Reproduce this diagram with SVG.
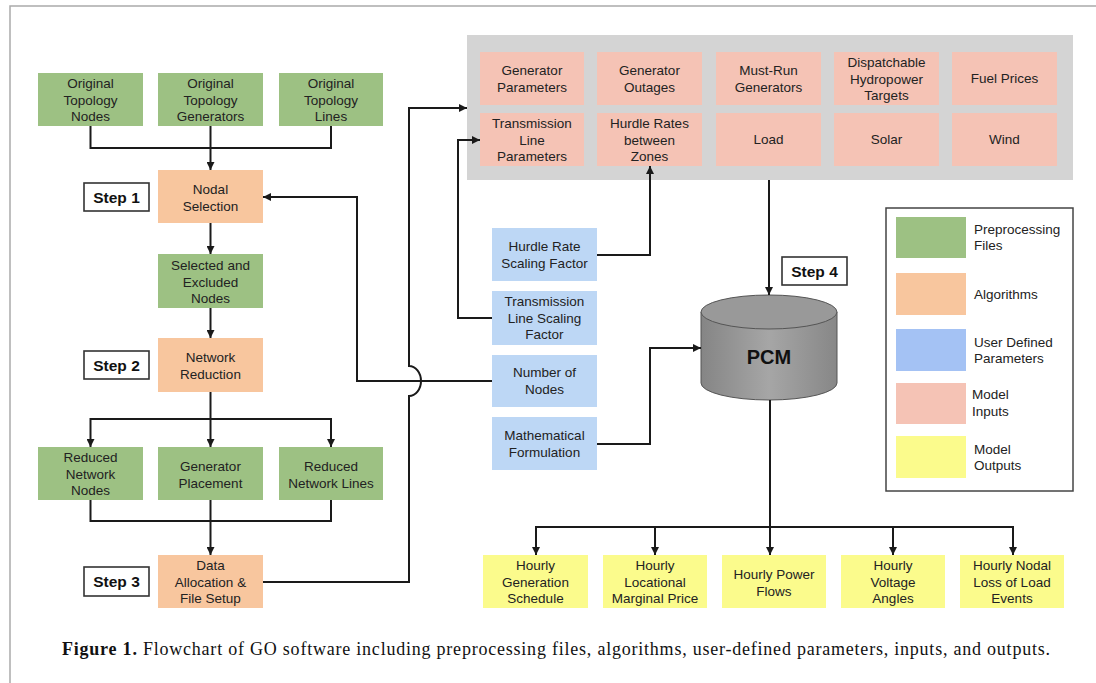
<svg xmlns="http://www.w3.org/2000/svg" width="1096" height="683" viewBox="0 0 1096 683">
<defs>
<marker id="ah" markerUnits="userSpaceOnUse" markerWidth="9" markerHeight="8" refX="8" refY="4" orient="auto">
<path d="M0,0 L8,4 L0,8 z" fill="#1a1a1a"/>
</marker>
<linearGradient id="cyl" x1="0" y1="0" x2="1" y2="0">
<stop offset="0" stop-color="#858585"/>
<stop offset="0.5" stop-color="#a6a6a6"/>
<stop offset="1" stop-color="#878787"/>
</linearGradient>
<style>
.t{font-family:"Liberation Sans",Arial,sans-serif;font-size:13.5px;fill:#222;text-anchor:middle}
.lg{font-family:"Liberation Sans",Arial,sans-serif;font-size:13.5px;fill:#222}
.step{font-family:"Liberation Sans",Arial,sans-serif;font-size:15.5px;font-weight:bold;fill:#111;text-anchor:middle}
.g{fill:#9dc183}
.o{fill:#f8c69e}
.b{fill:#bdd7f5}
.p{fill:#f5c3b5}
.y{fill:#fbfb8c}
.sb{fill:#fff;stroke:#333;stroke-width:1.6}
.c{fill:none;stroke:#1a1a1a;stroke-width:2}
.a{marker-end:url(#ah)}
</style>
</defs>
<rect width="1096" height="683" fill="#fff"/>
<path d="M10,683 V6 H1096" fill="none" stroke="#aaa" stroke-width="1.5"/>

<g id="orig-nodes"><rect class="g" x="38" y="73" width="105" height="53"/><text class="t" x="90.5" y="88"><tspan x="90.5">Original</tspan><tspan x="90.5" dy="16.5">Topology</tspan><tspan x="90.5" dy="16.5">Nodes</tspan></text></g>
<g id="orig-gens"><rect class="g" x="158" y="73" width="105" height="53"/><text class="t" x="210.5" y="88"><tspan x="210.5">Original</tspan><tspan x="210.5" dy="16.5">Topology</tspan><tspan x="210.5" dy="16.5">Generators</tspan></text></g>
<g id="orig-lines"><rect class="g" x="279" y="73" width="104" height="53"/><text class="t" x="331" y="88"><tspan x="331">Original</tspan><tspan x="331" dy="16.5">Topology</tspan><tspan x="331" dy="16.5">Lines</tspan></text></g>

<g id="step1"><rect class="sb" x="84" y="183" width="65" height="28"/><text class="step" x="116.5" y="203">Step 1</text></g>
<g id="nodal-selection"><rect class="o" x="158" y="170" width="105" height="53"/><text class="t" x="210.5" y="194"><tspan x="210.5">Nodal</tspan><tspan x="210.5" dy="16.5">Selection</tspan></text></g>
<g id="selected-excluded"><rect class="g" x="158" y="254" width="105" height="54"/><text class="t" x="210.5" y="270"><tspan x="210.5">Selected and</tspan><tspan x="210.5" dy="16.5">Excluded</tspan><tspan x="210.5" dy="16.5">Nodes</tspan></text></g>

<g id="step2"><rect class="sb" x="84" y="351" width="65" height="28"/><text class="step" x="116.5" y="371">Step 2</text></g>
<g id="network-reduction"><rect class="o" x="158" y="338" width="105" height="54"/><text class="t" x="210.5" y="362"><tspan x="210.5">Network</tspan><tspan x="210.5" dy="16.5">Reduction</tspan></text></g>

<g id="reduced-nodes"><rect class="g" x="38" y="447" width="105" height="53"/><text class="t" x="90.5" y="462"><tspan x="90.5">Reduced</tspan><tspan x="90.5" dy="16.5">Network</tspan><tspan x="90.5" dy="16.5">Nodes</tspan></text></g>
<g id="generator-placement"><rect class="g" x="158" y="447" width="105" height="53"/><text class="t" x="210.5" y="471"><tspan x="210.5">Generator</tspan><tspan x="210.5" dy="16.5">Placement</tspan></text></g>
<g id="reduced-lines"><rect class="g" x="279" y="447" width="104" height="53"/><text class="t" x="331" y="471"><tspan x="331">Reduced</tspan><tspan x="331" dy="16.5">Network Lines</tspan></text></g>

<g id="step3"><rect class="sb" x="84" y="567" width="65" height="29"/><text class="step" x="116.5" y="587">Step 3</text></g>
<g id="data-allocation"><rect class="o" x="158" y="555" width="105" height="53"/><text class="t" x="210.5" y="570"><tspan x="210.5">Data</tspan><tspan x="210.5" dy="16.5">Allocation &amp;</tspan><tspan x="210.5" dy="16.5">File Setup</tspan></text></g>

<g id="model-inputs">
<rect x="467" y="35" width="606" height="145" fill="#d4d4d4"/>
<rect class="p" x="480" y="52" width="104" height="53"/><text class="t" x="532" y="75"><tspan x="532">Generator</tspan><tspan x="532" dy="16.5">Parameters</tspan></text>
<rect class="p" x="597" y="52" width="105" height="53"/><text class="t" x="649.5" y="75"><tspan x="649.5">Generator</tspan><tspan x="649.5" dy="16.5">Outages</tspan></text>
<rect class="p" x="716" y="52" width="105" height="53"/><text class="t" x="768.5" y="75"><tspan x="768.5">Must-Run</tspan><tspan x="768.5" dy="16.5">Generators</tspan></text>
<rect class="p" x="834" y="52" width="105" height="53"/><text class="t" x="886.5" y="67"><tspan x="886.5">Dispatchable</tspan><tspan x="886.5" dy="16.5">Hydropower</tspan><tspan x="886.5" dy="16.5">Targets</tspan></text>
<rect class="p" x="952" y="52" width="105" height="53"/><text class="t" x="1004.5" y="83">Fuel Prices</text>
<rect class="p" x="480" y="113" width="104" height="53"/><text class="t" x="532" y="128"><tspan x="532">Transmission</tspan><tspan x="532" dy="16.5">Line</tspan><tspan x="532" dy="16.5">Parameters</tspan></text>
<rect class="p" x="597" y="113" width="105" height="53"/><text class="t" x="649.5" y="128"><tspan x="649.5">Hurdle Rates</tspan><tspan x="649.5" dy="16.5">between</tspan><tspan x="649.5" dy="16.5">Zones</tspan></text>
<rect class="p" x="716" y="113" width="105" height="53"/><text class="t" x="768.5" y="144">Load</text>
<rect class="p" x="834" y="113" width="105" height="53"/><text class="t" x="886.5" y="144">Solar</text>
<rect class="p" x="952" y="113" width="105" height="53"/><text class="t" x="1004.5" y="144">Wind</text>
</g>

<g id="hurdle-scaling"><rect class="b" x="492" y="228" width="105" height="53"/><text class="t" x="544.5" y="251"><tspan x="544.5">Hurdle Rate</tspan><tspan x="544.5" dy="16.5">Scaling Factor</tspan></text></g>
<g id="tx-scaling"><rect class="b" x="492" y="291" width="105" height="54"/><text class="t" x="544.5" y="306"><tspan x="544.5">Transmission</tspan><tspan x="544.5" dy="16.5">Line Scaling</tspan><tspan x="544.5" dy="16.5">Factor</tspan></text></g>
<g id="num-nodes"><rect class="b" x="492" y="355" width="105" height="52"/><text class="t" x="544.5" y="377"><tspan x="544.5">Number of</tspan><tspan x="544.5" dy="16.5">Nodes</tspan></text></g>
<g id="math-formulation"><rect class="b" x="492" y="417" width="105" height="53"/><text class="t" x="544.5" y="440"><tspan x="544.5">Mathematical</tspan><tspan x="544.5" dy="16.5">Formulation</tspan></text></g>

<g id="step4"><rect class="sb" x="782" y="257" width="65" height="28"/><text class="step" x="814.5" y="277">Step 4</text></g>
<g id="pcm">
<path d="M701,312 V383 A68,17 0 0 0 837,383 V312 Z" fill="url(#cyl)" stroke="#555" stroke-width="1"/>
<ellipse cx="769" cy="312" rx="68" ry="17" fill="#999" stroke="#555" stroke-width="1"/>
<text x="769" y="364" font-family="'Liberation Sans',Arial,sans-serif" font-size="20" font-weight="bold" fill="#111" text-anchor="middle">PCM</text>
</g>

<g id="out-gen"><rect class="y" x="483" y="555" width="105" height="53"/><text class="t" x="535.5" y="570"><tspan x="535.5">Hourly</tspan><tspan x="535.5" dy="16.5">Generation</tspan><tspan x="535.5" dy="16.5">Schedule</tspan></text></g>
<g id="out-lmp"><rect class="y" x="603" y="555" width="104" height="53"/><text class="t" x="655" y="570"><tspan x="655">Hourly</tspan><tspan x="655" dy="16.5">Locational</tspan><tspan x="655" dy="16.5">Marginal Price</tspan></text></g>
<g id="out-flows"><rect class="y" x="722" y="555" width="104" height="53"/><text class="t" x="774" y="579"><tspan x="774">Hourly Power</tspan><tspan x="774" dy="16.5">Flows</tspan></text></g>
<g id="out-angles"><rect class="y" x="841" y="555" width="104" height="53"/><text class="t" x="893" y="570"><tspan x="893">Hourly</tspan><tspan x="893" dy="16.5">Voltage</tspan><tspan x="893" dy="16.5">Angles</tspan></text></g>
<g id="out-lol"><rect class="y" x="960" y="555" width="104" height="53"/><text class="t" x="1012" y="570"><tspan x="1012">Hourly Nodal</tspan><tspan x="1012" dy="16.5">Loss of Load</tspan><tspan x="1012" dy="16.5">Events</tspan></text></g>

<g id="legend">
<rect x="886" y="208" width="187" height="283" fill="#fff" stroke="#444" stroke-width="1.5"/>
<rect class="g" x="896" y="217" width="70" height="41"/>
<rect class="o" x="896" y="273" width="70" height="42"/>
<rect x="896" y="329" width="70" height="42" fill="#a4c2f4"/>
<rect class="p" x="896" y="383" width="70" height="41"/>
<rect class="y" x="896" y="436" width="70" height="42"/>
<text class="lg" x="974" y="234">Preprocessing</text>
<text class="lg" x="974" y="250">Files</text>
<text class="lg" x="974" y="299">Algorithms</text>
<text class="lg" x="974" y="347">User Defined</text>
<text class="lg" x="974" y="363">Parameters</text>
<text class="lg" x="972" y="399">Model</text>
<text class="lg" x="972" y="416">Inputs</text>
<text class="lg" x="974" y="454">Model</text>
<text class="lg" x="974" y="470">Outputs</text>
</g>

<g id="connectors">
<path class="c" d="M90.5,126 V148 H331 V126"/>
<path class="c a" d="M210.5,126 V170"/>
<path class="c a" d="M210.5,223 V254"/>
<path class="c a" d="M210.5,308 V338"/>
<path class="c" d="M210.5,392 V419"/>
<path class="c" d="M90.5,419 H331"/>
<path class="c a" d="M90.5,418 V447"/>
<path class="c a" d="M210.5,418 V447"/>
<path class="c a" d="M331,418 V447"/>
<path class="c" d="M90.5,500 V521 H331 V500"/>
<path class="c a" d="M210.5,500 V555"/>
<path class="c a" d="M263,582 H409 V396 A12,15 0 0 0 409,366 V108 H467"/>
<path class="c a" d="M492,381 H357 V197 H263"/>
<path class="c a" d="M492,318 H458 V140 H480"/>
<path class="c a" d="M597,255 H650 V166"/>
<path class="c a" d="M597,444 H650 V348 H701"/>
<path class="c a" d="M769,180 V295"/>
<path class="c a" d="M770,400 V555"/>
<path class="c" d="M536,527 H1013"/>
<path class="c a" d="M536,526 V555"/>
<path class="c a" d="M655,526 V555"/>
<path class="c a" d="M893,526 V555"/>
<path class="c a" d="M1013,526 V555"/>
</g>

<text x="62" y="655" font-family="'Liberation Serif','Times New Roman',serif" font-size="18" fill="#111" textLength="988" lengthAdjust="spacing"><tspan font-weight="bold">Figure 1.</tspan> Flowchart of GO software including preprocessing files, algorithms, user-defined parameters, inputs, and outputs.</text>
</svg>
